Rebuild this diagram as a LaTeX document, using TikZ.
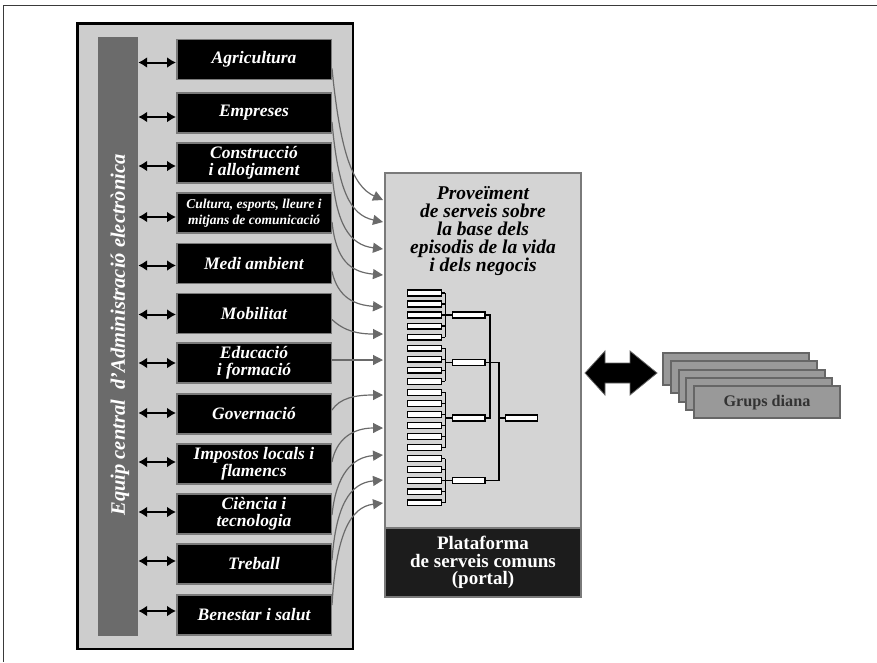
\documentclass[tikz,border=0pt]{standalone}
\usepackage{fontspec}
\setmainfont{Liberation Serif}
\usetikzlibrary{arrows.meta,calc}

\definecolor{panelgray}{HTML}{CDCDCD}
\definecolor{bargray}{HTML}{6B6B6B}
\definecolor{rimgray}{HTML}{7A7A7A}
\definecolor{midgray}{HTML}{D4D4D4}
\definecolor{linkgray}{HTML}{6A6A6A}
\definecolor{cardgray}{HTML}{999999}
\definecolor{cardrim}{HTML}{666666}
\definecolor{portalblack}{HTML}{1C1C1C}
\definecolor{framegray}{HTML}{3A3A3A}

\begin{document}
\begin{tikzpicture}[x=1pt,y=-1pt,
  panel/.style={draw=black, line width=2.5pt, fill=panelgray, minimum width=275.5pt, minimum height=625.5pt, inner sep=0pt},
  sidebar/.style={fill=bargray, minimum width=40pt, minimum height=599pt, inner sep=0pt},
  area/.style={draw=rimgray, line width=1.5pt, fill=black, text=white, minimum width=154.5pt, minimum height=40pt, inner sep=0pt, align=center, font=\fontsize{17.5}{16.5}\selectfont\bfseries\itshape},
  smalltext/.style={font=\fontsize{13.5}{16}\selectfont\bfseries\itshape},
  dbl/.style={line width=2pt, {Latex[length=9pt,width=11pt]}-{Latex[length=9pt,width=11pt]}},
  link/.style={draw=linkgray, line width=1.2pt, -{Triangle[length=10pt,width=10pt]}},
  midbox/.style={draw=rimgray, line width=2pt, fill=midgray, minimum width=196pt, minimum height=424pt, inner sep=0pt},
  portal/.style={draw=rimgray, line width=2pt, fill=portalblack, text=white, minimum width=196pt, minimum height=69pt, inner sep=0pt, align=center, font=\fontsize{19}{17.5}\selectfont\bfseries},
  leaf/.style={draw=black, fill=white, line width=1.4pt, minimum width=33.5pt, minimum height=5.8pt, inner sep=0pt},
  treeline/.style={draw=black, line width=1.3pt},
  card/.style={draw=cardrim, fill=cardgray, line width=2pt, minimum width=146pt, minimum height=32pt, inner sep=0pt, text=black!80, font=\fontsize{16.2}{18}\selectfont\bfseries},
]
\useasboundingbox (0,0) rectangle (877,662);

% page frame
\draw[framegray, line width=1.2pt] (877,5.5) -- (3.5,5.5) -- (3.5,662);

% left panel with the departments
\node[panel] (panel) at (215,336) {};
\node[sidebar] (bar) at (118,336.5) {};
\node[rotate=90, text=white, font=\fontsize{20.5}{20}\selectfont\bfseries\itshape] (equip) at (120,335) {Equip central\ \ d’Administració electrònica};

\node[area] (agr) at (254,59.5) {Agricultura};
\node[area] (emp) at (254,113) {Empreses};
\node[area] (con) at (254,163) {Construcció\\i allotjament};
\node[area,smalltext] (cul) at (254,213) {Cultura, esports, lleure i\\mitjans de comunicació};
\node[area] (med) at (254,263.5) {Medi ambient};
\node[area] (mob) at (254,313.5) {Mobilitat};
\node[area] (edu) at (254,363) {Educació\\i formació};
\node[area] (gov) at (254,414) {Governació};
\node[area] (imp) at (254,464) {Impostos locals i\\flamencs};
\node[area] (cie) at (254,514) {Ciència i\\tecnologia};
\node[area] (tre) at (254,564) {Treball};
\node[area] (ben) at (254,615) {Benestar i salut};

\foreach \n/\dy in {agr/3,emp/4,con/3,cul/4,med/2,mob/1,edu/0,gov/-1,imp/-2,cie/-2,tre/-3,ben/-4}
  \draw[dbl] ($(bar.east |- \n.west)+(0,\dy)$) -- ($(\n.west)+(0,\dy)$);

% service provision box
\node[midbox] (mid) at (483,385) {};
\node[portal] (portal) at (483,562.5) {Plataforma\\de serveis comuns\\(portal)};
\node[align=center, font=\fontsize{19.5}{18}\selectfont\bfseries\itshape] (prov) at (483,231)
  {Proveïment\\de serveis sobre\\la base dels\\episodis de la vida\\i dels negocis};

% hierarchy of services
\foreach \i in {1,...,20} {
  \node[leaf] (leaf\i) at (424.5,{293+11.04*(\i-1)}) {};
  \draw[treeline] (leaf\i.east) -- ++(3.5,0);
}
\node[leaf, minimum width=32.5pt] (sub1) at (468.7,315) {};
\node[leaf, minimum width=32.5pt] (sub2) at (468.7,362.5) {};
\node[leaf, minimum width=32.5pt] (sub3) at (468.7,418) {};
\node[leaf, minimum width=32.5pt] (sub4) at (468.7,480.5) {};
\node[leaf, minimum width=32pt] (topleaf) at (521.5,418) {};

\draw[treeline] ($(leaf1.east)+(3.5,0)$) -- ($(leaf5.east)+(3.5,0)$);
\draw[treeline] ($(leaf6.east)+(3.5,0)$) -- ($(leaf9.east)+(3.5,0)$);
\draw[treeline] ($(leaf10.east)+(3.5,0)$) -- ($(leaf15.east)+(3.5,0)$);
\draw[treeline] ($(leaf16.east)+(3.5,0)$) -- ($(leaf20.east)+(3.5,0)$);
\foreach \s in {sub1,sub2,sub3,sub4}
  \draw[treeline] (\s.west) -- ++(-6.2,0);
\draw[treeline] (sub1.east) -- ++(4.3,0) |- (sub3.east);
\draw[treeline] (sub2.east) -- ++(13.3,0) |- (sub4.east);
\draw[treeline] (topleaf.west) -- ++(-6,0);

% connectors from the departments to the service box
\coordinate (t1) at (383,200);
\coordinate (t2) at (383,222);
\coordinate (t3) at (383,249);
\coordinate (t4) at (383,275);
\coordinate (t5) at (383,307);
\coordinate (t6) at (383,334);
\coordinate (t7) at (383,360);
\coordinate (t8) at (383,395);
\coordinate (t9) at (383,428);
\coordinate (t10) at (383,455);
\coordinate (t11) at (383,480);
\coordinate (t12) at (383,503);

\draw[link] ($(agr.east)+(0,9)$) .. controls (340,150) and (352,186) .. (t1);
\draw[link] ($(emp.east)+(0,9)$) .. controls (338,190) and (350,215) .. (t2);
\draw[link] ($(con.east)+(0,9)$) .. controls (336,225) and (350,245) .. (t3);
\draw[link] ($(cul.east)+(0,9)$) .. controls (336,260) and (350,272) .. (t4);
\draw[link] ($(med.east)+(0,8)$) .. controls (338,298) and (355,305) .. (t5);
\draw[link] ($(mob.east)+(0,6)$) .. controls (345,332) and (360,334) .. (t6);
\draw[link] ($(edu.east)+(0,-3)$) -- (t7);
\draw[link] ($(gov.east)+(0,-4)$) .. controls (340,398) and (355,395) .. (t8);
\draw[link] ($(imp.east)+(0,-2)$) .. controls (336,440) and (352,428) .. (t9);
\draw[link] ($(cie.east)+(0,1)$) .. controls (336,475) and (352,457) .. (t10);
\draw[link] ($(tre.east)+(0,-4)$) .. controls (336,505) and (350,483) .. (t11);
\draw[link] ($(ben.east)+(0,-10)$) .. controls (336,535) and (350,507) .. (t12);

% exchange with the target groups
\fill[black, draw=black!60, line width=0.8pt]
  (585,373) -- (605,351) -- (605,363) -- (630,363) -- (630,351) -- (657,373)
  -- (630,395) -- (630,383) -- (605,383) -- (605,395) -- cycle;

\foreach \k in {0,...,3}
  \node[card] (card\k) at ({736+7.75*\k},{369+8.3*\k}) {};
\node[card] (grups) at (767,402.2) {Grups diana};
\end{tikzpicture}
\end{document}
